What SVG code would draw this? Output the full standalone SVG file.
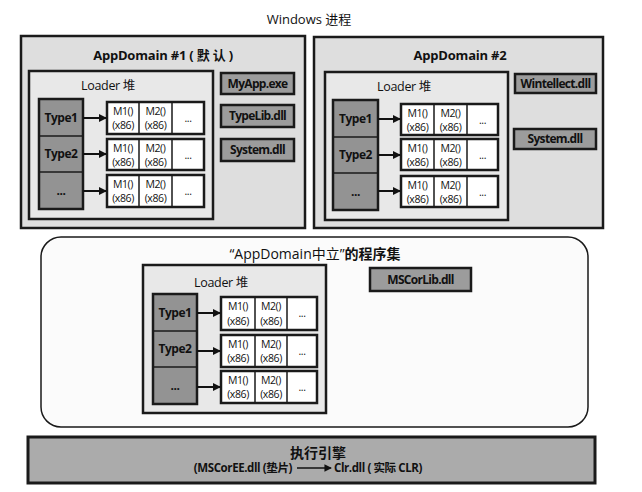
<svg xmlns="http://www.w3.org/2000/svg" width="642" height="492" viewBox="0 0 642 492">
<defs>
<marker id="ah" viewBox="0 0 8 8" refX="7" refY="4" markerWidth="4" markerHeight="4" orient="auto" markerUnits="strokeWidth"><path d="M0,0 L8,4 L0,8 Z" fill="#111"/></marker>
<marker id="ah2" viewBox="0 0 8 8" refX="7" refY="4" markerWidth="5" markerHeight="5" orient="auto" markerUnits="strokeWidth"><path d="M0,0 L8,4 L0,8 Z" fill="#111"/></marker>
</defs>
<style>
text{font-family:"Open Sans","Noto Sans","Noto Sans CJK SC",sans-serif;fill:#111}
.dom{fill:#dedede;stroke:#1a1a1a;stroke-width:2.5}
.heap{fill:#e8e8e8;stroke:#1a1a1a;stroke-width:2.5}
.type{fill:#939393;stroke:#1a1a1a;stroke-width:2.5}
.meth{fill:#fff;stroke:#1a1a1a;stroke-width:2.5}
.cell{stroke:#1a1a1a;stroke-width:1.5}
.asm{fill:#9c9c9c;stroke:#1a1a1a;stroke-width:2.5}
.neu{fill:#fbfbfb;stroke:#1a1a1a;stroke-width:1.5}
.ee{fill:#ababab;stroke:#1a1a1a;stroke-width:3}
.t{font-size:13px}
.b{font-weight:bold}
.tb{font-size:13px;font-weight:bold;letter-spacing:-0.2px}
.ty{font-size:12px;font-weight:bold;letter-spacing:-0.5px;text-anchor:middle}
.m{font-size:10.5px;text-anchor:middle;letter-spacing:-0.4px}
.lh{font-size:12.5px;text-anchor:middle;letter-spacing:-0.3px}
.al{font-size:12px;font-weight:bold;letter-spacing:-0.7px;text-anchor:middle}
.arr{stroke:#111;stroke-width:2;marker-end:url(#ah)}
</style>

<text id="title" class="t" x="309" y="24" text-anchor="middle">Windows 进程</text>

<g id="appdomain1">
<rect class="dom" x="21" y="36" width="284" height="192"/>
<text class="tb" x="163" y="60" text-anchor="middle">AppDomain #1 ( 默 认 )</text>
</g>
<g id="appdomain2">
<rect class="dom" x="314" y="37" width="289" height="191"/>
<text class="tb" x="460" y="60" text-anchor="middle">AppDomain #2</text>
</g>
<g id="neutral">
<rect class="neu" x="41" y="237" width="547" height="190" rx="20" ry="20"/>
<text x="315" y="259" text-anchor="middle" style="font-size:14px">“AppDomain中立”<tspan class="b">的程序集</tspan></text>
</g>

<g id="heap1" transform="translate(29,71)">
<rect class="heap" x="0" y="0" width="184" height="148"/>
<text class="lh" x="79" y="19">Loader 堆</text>
<rect class="type" x="10" y="28" width="44" height="110"/>
<line class="cell" x1="10" y1="65" x2="54" y2="65"/><line class="cell" x1="10" y1="101" x2="54" y2="101"/>
<text class="ty" x="32" y="51">Type1</text><text class="ty" x="32" y="87">Type2</text><text class="ty" x="32" y="124">...</text>
<rect class="meth" x="78" y="31" width="97" height="32"/><rect class="meth" x="78" y="68" width="97" height="31"/><rect class="meth" x="78" y="104" width="97" height="32"/>
<path class="cell" d="M110,31V63M143,31V63M110,68V99M143,68V99M110,104V136M143,104V136" fill="none"/>
<text class="m" x="94" y="44">M1()</text><text class="m" x="94" y="58">(x86)</text><text class="m" x="126.5" y="44">M2()</text><text class="m" x="126.5" y="58">(x86)</text><text class="m" x="159" y="51">...</text>
<text class="m" x="94" y="81">M1()</text><text class="m" x="94" y="95">(x86)</text><text class="m" x="126.5" y="81">M2()</text><text class="m" x="126.5" y="95">(x86)</text><text class="m" x="159" y="88">...</text>
<text class="m" x="94" y="117">M1()</text><text class="m" x="94" y="131">(x86)</text><text class="m" x="126.5" y="117">M2()</text><text class="m" x="126.5" y="131">(x86)</text><text class="m" x="159" y="124">...</text>
</g>

<g id="heap2" transform="translate(325,72)">
<rect class="heap" x="0" y="0" width="183" height="148"/>
<text class="lh" x="79" y="19">Loader 堆</text>
<rect class="type" x="8" y="28" width="45" height="110"/>
<line class="cell" x1="8" y1="65" x2="53" y2="65"/><line class="cell" x1="8" y1="101" x2="53" y2="101"/>
<text class="ty" x="30.5" y="51">Type1</text><text class="ty" x="30.5" y="87">Type2</text><text class="ty" x="30.5" y="124">...</text>
<rect class="meth" x="76" y="32" width="97" height="31"/><rect class="meth" x="76" y="67" width="97" height="31"/><rect class="meth" x="76" y="104" width="97" height="31"/>
<path class="cell" d="M109,32V63M142,32V63M109,67V98M142,67V98M109,104V135M142,104V135" fill="none"/>
<text class="m" x="92.5" y="45">M1()</text><text class="m" x="92.5" y="59">(x86)</text><text class="m" x="125.5" y="45">M2()</text><text class="m" x="125.5" y="59">(x86)</text><text class="m" x="157.5" y="52">...</text>
<text class="m" x="92.5" y="80">M1()</text><text class="m" x="92.5" y="94">(x86)</text><text class="m" x="125.5" y="80">M2()</text><text class="m" x="125.5" y="94">(x86)</text><text class="m" x="157.5" y="87">...</text>
<text class="m" x="92.5" y="117">M1()</text><text class="m" x="92.5" y="131">(x86)</text><text class="m" x="125.5" y="117">M2()</text><text class="m" x="125.5" y="131">(x86)</text><text class="m" x="157.5" y="124">...</text>
</g>

<g id="heap3" transform="translate(143,265)">
<rect class="heap" x="0" y="0" width="183" height="148"/>
<text class="lh" x="78" y="22">Loader 堆</text>
<rect class="type" x="10" y="29" width="44" height="110"/>
<line class="cell" x1="10" y1="66" x2="54" y2="66"/><line class="cell" x1="10" y1="102" x2="54" y2="102"/>
<text class="ty" x="32" y="52">Type1</text><text class="ty" x="32" y="88">Type2</text><text class="ty" x="32" y="125">...</text>
<rect class="meth" x="78" y="32" width="96" height="33"/><rect class="meth" x="78" y="70" width="96" height="32"/><rect class="meth" x="78" y="106" width="96" height="32"/>
<path class="cell" d="M112,32V65M144,32V65M112,70V102M144,70V102M112,106V138M144,106V138" fill="none"/>
<text class="m" x="95" y="45">M1()</text><text class="m" x="95" y="60">(x86)</text><text class="m" x="128" y="45">M2()</text><text class="m" x="128" y="60">(x86)</text><text class="m" x="159" y="52">...</text>
<text class="m" x="95" y="83">M1()</text><text class="m" x="95" y="97">(x86)</text><text class="m" x="128" y="83">M2()</text><text class="m" x="128" y="97">(x86)</text><text class="m" x="159" y="90">...</text>
<text class="m" x="95" y="119">M1()</text><text class="m" x="95" y="133">(x86)</text><text class="m" x="128" y="119">M2()</text><text class="m" x="128" y="133">(x86)</text><text class="m" x="159" y="126">...</text>
</g>

<g id="myapp"><rect class="asm" x="221" y="73" width="73" height="21"/><text class="al" x="257.5" y="88">MyApp.exe</text></g>
<g id="typelib"><rect class="asm" x="221" y="105" width="73" height="22"/><text class="al" x="257.5" y="120">TypeLib.dll</text></g>
<g id="system1"><rect class="asm" x="221" y="139" width="73" height="22"/><text class="al" x="257.5" y="154">System.dll</text></g>
<g id="wintellect"><rect class="asm" x="515" y="74" width="81" height="19"/><text class="al" x="555.5" y="88">Wintellect.dll</text></g>
<g id="system2"><rect class="asm" x="514" y="129" width="82" height="20"/><text class="al" x="555" y="143">System.dll</text></g>
<g id="mscorlib"><rect class="asm" x="370" y="268" width="101" height="23"/><text class="al" x="420.5" y="284">MSCorLib.dll</text></g>

<g id="engine">
<rect class="ee" x="28" y="437" width="567" height="46"/>
<text x="318" y="458" text-anchor="middle" style="font-size:14px;font-weight:bold">执行引擎</text>
<text x="292" y="472" text-anchor="end" style="font-size:11.5px;font-weight:bold;letter-spacing:-0.4px">(MSCorEE.dll (垫片)</text>
<line x1="297" y1="468" x2="331" y2="468" stroke="#111" stroke-width="1.5" marker-end="url(#ah2)"/>
<text x="334" y="472" style="font-size:11.5px;font-weight:bold;letter-spacing:-0.4px">Clr.dll ( 实际 CLR)</text>
</g>

<g id="connectors">
<line class="arr" x1="83" y1="118" x2="106" y2="118"/>
<line class="arr" x1="83" y1="154" x2="106" y2="154"/>
<line class="arr" x1="83" y1="191" x2="106" y2="191"/>
<line class="arr" x1="378" y1="119" x2="400" y2="119"/>
<line class="arr" x1="378" y1="155" x2="400" y2="155"/>
<line class="arr" x1="378" y1="191" x2="400" y2="191"/>
<line class="arr" x1="197" y1="313" x2="220" y2="313"/>
<line class="arr" x1="197" y1="351" x2="220" y2="351"/>
<line class="arr" x1="197" y1="387" x2="220" y2="387"/>
</g>
</svg>
